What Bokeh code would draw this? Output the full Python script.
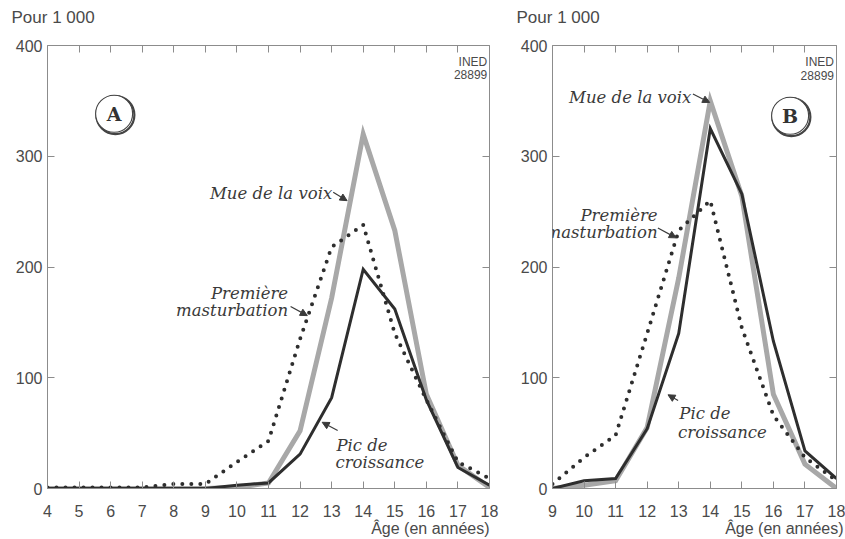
from bokeh.plotting import figure
from bokeh.models import (Label, Arrow, NormalHead, LinearAxis, FixedTicker,
                          Range1d, Title)
from bokeh.layouts import row
from bokeh.embed import file_html
from bokeh.resources import INLINE

# ---------------- data (per 1 000) ----------------
ages_a = [4, 5, 6, 7, 8, 9, 10, 11, 12, 13, 14, 15, 16, 17, 18]
voice_a = [0, 0, 0, 0, 0, 0, 1, 5, 52, 172, 320, 233, 85, 21, 1]
growth_a = [0, 0, 0, 0, 0, 0, 3, 5, 31, 82, 198, 162, 80, 19, 3]
mast_a = [1, 1, 1, 1, 4, 4, 24, 43, 135, 218, 238, 140, 80, 24, 9]

ages_b = [9, 10, 11, 12, 13, 14, 15, 16, 17, 18]
voice_b = [0, 3, 7, 55, 190, 350, 264, 85, 22, 0]
growth_b = [0, 7, 9, 54, 140, 325, 266, 133, 34, 9]
mast_b = [4, 28, 48, 140, 233, 260, 145, 66, 28, 7]

y_ticks = [0, 100, 200, 300, 400]
y_label = "Pour 1 000"
x_label = "Âge (en années)"
lbl_voice = "Mue de la voix"
lbl_mast = ["Première", "masturbation"]
lbl_growth = ["Pic de", "croissance"]
source_note = ["INED", "28899"]

AXIS_COL = "#8c8c8c"
TXT_COL = "#4a4a4a"
LBL_COL = "#3a3a3a"
GRAY = "#a8a8a8"
DARK = "#2e2e2e"


def make_panel(ages, voice, growth, mast, frame_w, border_l, border_r, xl_offset):
    p = figure(frame_width=frame_w, frame_height=443,
               x_range=Range1d(ages[0], ages[-1]), y_range=Range1d(0, 400),
               output_backend="svg", toolbar_location=None,
               min_border_left=border_l, min_border_right=border_r,
               min_border_top=45, min_border_bottom=50,
               background_fill_color="white", border_fill_color="white")
    p.outline_line_color = None
    p.xgrid.visible = False
    p.ygrid.visible = False

    bottom = p.below[0]
    left = p.left[0]
    top = LinearAxis()
    right = LinearAxis()
    p.add_layout(top, "above")
    p.add_layout(right, "right")

    bottom.ticker = FixedTicker(ticks=ages)
    top.ticker = FixedTicker(ticks=ages)
    left.ticker = FixedTicker(ticks=y_ticks)
    right.ticker = FixedTicker(ticks=y_ticks)

    for ax in [bottom, left, top, right]:
        ax.axis_line_color = AXIS_COL
        ax.axis_line_width = 1
        ax.major_tick_line_color = AXIS_COL
        ax.major_tick_in = 7
        ax.major_tick_out = 0
        ax.minor_tick_line_color = None
        ax.major_label_text_font = "Liberation Sans"
        ax.major_label_text_font_size = "16px"
        ax.major_label_text_color = TXT_COL
    bottom.major_label_standoff = 16
    left.major_label_standoff = 5
    for ax in [top, right]:
        ax.major_label_text_font_size = "1px"
        ax.major_label_text_color = None
        ax.major_label_standoff = 0

    p.line(ages, voice, line_color=GRAY, line_width=5, line_join="miter")
    p.line(ages, growth, line_color=DARK, line_width=3, line_join="miter")
    p.line(ages, mast, line_color=DARK, line_width=4, line_dash="0 9",
           line_cap="round")

    # trailing blank line lifts the unit caption to its place above the frame
    p.add_layout(Title(text=y_label + "\n ", align="left", offset=-36, standoff=0,
                       vertical_align="bottom", text_line_height=1.0,
                       text_font="Liberation Sans", text_font_size="17px",
                       text_font_style="normal", text_color=TXT_COL), "above")
    p.add_layout(Title(text=x_label, align="right", offset=xl_offset, standoff=-3,
                       text_font="Liberation Sans", text_font_size="16px",
                       text_font_style="normal", text_color=TXT_COL), "below")
    return p


def txt(p, x, y, s, align):
    p.add_layout(Label(x=x, y=y, text=s, text_font="DejaVu Serif",
                       text_font_style="italic", text_font_size="16.5px",
                       text_color=LBL_COL, text_align=align,
                       text_baseline="alphabetic"))


def arrow(p, x0, y0, x1, y1):
    p.add_layout(Arrow(end=NormalHead(size=7, fill_color=LBL_COL,
                                      line_color=LBL_COL, line_width=1),
                       x_start=x0, y_start=y0, x_end=x1, y_end=y1,
                       line_color=LBL_COL, line_width=1.2))


def note(p, x, y1, y2):
    for s, y in zip(source_note, [y1, y2]):
        p.add_layout(Label(x=x, y=y, text=s, text_font="Liberation Sans",
                           text_font_size="12px", text_color=TXT_COL,
                           text_align="right", text_baseline="alphabetic"))


def badge(p, x, y, letter, dx, dy):
    p.scatter([x + dx], [y - dy], marker="circle", size=38, fill_color=None,
              line_color="#444444", line_width=2.2)
    p.scatter([x], [y], marker="circle", size=37, fill_color="white",
              line_color="#444444", line_width=1.1)
    p.add_layout(Label(x=x, y=y, text=letter, text_font="DejaVu Serif",
                       text_font_style="bold", text_font_size="19px",
                       text_color="#333333", text_align="center",
                       text_baseline="middle"))


# ---------------- panel A ----------------
pa = make_panel(ages_a, voice_a, growth_a, mast_a, 442, 47, 24, 0)
txt(pa, 13.02, 266, lbl_voice, "right")
arrow(pa, 13.05, 267.4, 13.49, 259.9)
txt(pa, 11.62, 176, lbl_mast[0], "right")
txt(pa, 11.62, 160.6, lbl_mast[1], "right")
arrow(pa, 11.70, 164.3, 12.23, 156.1)
txt(pa, 13.15, 38.8, lbl_growth[0], "left")
txt(pa, 13.12, 23.5, lbl_growth[1], "left")
arrow(pa, 13.19, 52.3, 12.70, 59.8)
note(pa, 17.93, 385.2, 373.6)
badge(pa, 6.11, 338.4, "A", 0.04, 1.2)

# ---------------- panel B ----------------
pb = make_panel(ages_b, voice_b, growth_b, mast_b, 284, 39, 9, -7)
txt(pb, 13.40, 353.3, lbl_voice, "right")
arrow(pb, 13.45, 356.2, 13.98, 348.6)
txt(pb, 12.33, 246.4, lbl_mast[0], "right")
txt(pb, 12.33, 231.3, lbl_mast[1], "right")
arrow(pb, 12.34, 235.3, 12.92, 226.3)
txt(pb, 13.02, 67.7, lbl_growth[0], "left")
txt(pb, 12.98, 50.8, lbl_growth[1], "left")
arrow(pb, 12.98, 79.4, 12.66, 84.6)
note(pb, 17.92, 384.8, 372.7)
badge(pb, 16.53, 336.6, "B", 0.04, 1.2)

layout = row(pa, pb)
open("out.html", "w").write(file_html(layout, INLINE))
